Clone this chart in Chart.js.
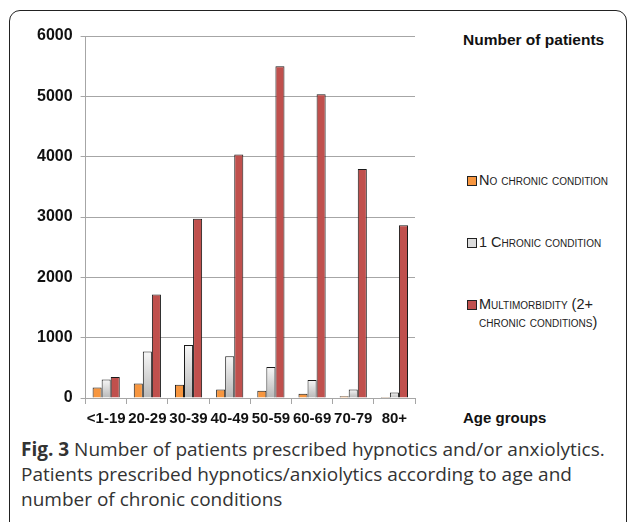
<!DOCTYPE html>
<html>
<head>
<meta charset="utf-8">
<script src="https://cdn.jsdelivr.net/npm/chart.js@4.4.1/dist/chart.umd.min.js"></script>
<style>
  html, body { margin: 0; padding: 0; background: #fff; }
  body { width: 627px; height: 522px; position: relative; overflow: hidden; font-family: "Liberation Sans", Arial, sans-serif; }
  #frame { position: absolute; left: 9px; top: 10px; width: 618px; height: 530px; border: 1.5px solid #222; border-radius: 11px; box-sizing: border-box; }
  #chartBox { position: absolute; left: 0; top: 0; width: 420px; height: 435px; }
  .ttl { position: absolute; font-weight: bold; color: #111; white-space: nowrap; }
  #legend { position: absolute; left: 467px; top: 171px; }
  .item { position: absolute; left: 0; font-size: 14.5px; font-variant: small-caps; color: #222; line-height: 18px; }
  .item .sw { position: absolute; left: 0; top: 5px; width: 8px; height: 8px; border: 1px solid #222; }
  .item span.t { display: block; padding-left: 12px; }
  #caption { position: absolute; left: 21px; top: 437px; font-family: "Open Sans", sans-serif; font-size: 19px; line-height: 25px; color: #333; white-space: nowrap; }
</style>
</head>
<body>
<div id="frame"></div>
<div id="chartBox"><canvas id="chart"></canvas></div>
<div class="ttl" style="left:463px; top:31px; font-size:15.5px;">Number of patients</div>
<div class="ttl" style="left:463px; top:409px; font-size:15px;">Age groups</div>
<div id="legend"></div>
<div id="caption"><b>Fig. 3</b> Number of patients prescribed hypnotics and/or anxiolytics.<br>Patients prescribed hypnotics/anxiolytics according to age and<br>number of chronic conditions</div>
<script>
const ageGroups = ['<1-19', '20-29', '30-39', '40-49', '50-59', '60-69', '70-79', '80+'];
const noChronic = [175, 240, 220, 140, 120, 70, 30, 15];
const oneChronic = [305, 770, 880, 690, 515, 300, 140, 90];
const multimorbidity = [350, 1715, 2970, 4035, 5500, 5035, 3795, 2865];
const seriesNames = ['No chronic condition', '1 Chronic condition', 'Multimorbidity (2+ chronic conditions)'];
const yTicks = [0, 1000, 2000, 3000, 4000, 5000, 6000];

// gray bars get a light-to-dark gradient from top to bottom of each bar
const grayFill = (ctx) => {
    const chart = ctx.chart;
    if (!chart.chartArea || ctx.type !== 'data') return '#d9d9d9';
    const y = chart.scales.y;
    const top = y.getPixelForValue(ctx.raw);
    const bottom = y.getPixelForValue(0);
    if (!isFinite(top) || bottom - top < 1) return '#d9d9d9';
    const g = chart.ctx.createLinearGradient(0, top, 0, bottom);
    g.addColorStop(0, '#f7f7f7');
    g.addColorStop(1, '#b8b8b8');
    return g;
};

const datasets = [
    { label: seriesNames[0], data: noChronic, backgroundColor: '#f7963f', swatch: '#f7963f' },
    { label: seriesNames[1], data: oneChronic, backgroundColor: grayFill, swatch: '#dcdcdc' },
    { label: seriesNames[2], data: multimorbidity, backgroundColor: '#c0504d', swatch: '#c0504d' }
];
datasets.forEach(d => {
    d.borderColor = '#1a1a1a';
    d.borderWidth = 1;
    d.barPercentage = 1;
    d.categoryPercentage = 0.66;
});

const axisFont = 'Liberation Sans';

new Chart(document.getElementById('chart'), {
    type: 'bar',
    data: { labels: ageGroups, datasets: datasets },
    options: {
        responsive: true,
        maintainAspectRatio: false,
        animation: false,
        layout: { padding: { left: 29, right: 5, top: 36, bottom: 1 } },
        plugins: { legend: { display: false }, tooltip: { enabled: false } },
        scales: {
            x: {
                grid: { display: true, drawOnChartArea: false, offset: true, color: '#a6a6a6', tickLength: 6 },
                border: { color: '#a6a6a6' },
                ticks: {
                    autoSkip: false, maxRotation: 0, padding: 6, color: '#111',
                    font: { family: axisFont, size: 15, weight: 'bold' }
                }
            },
            y: {
                min: 0, max: 6000,
                afterBuildTicks: (axis) => { axis.ticks = yTicks.map(v => ({ value: v })); },
                grid: { color: '#a6a6a6', tickLength: 5 },
                border: { color: '#a6a6a6' },
                ticks: {
                    padding: 8, color: '#111',
                    callback: (v) => String(v),
                    font: { family: axisFont, size: 16, weight: 'bold' }
                }
            }
        }
    }
});

// legend built from the datasets
const legend = document.getElementById('legend');
const itemTops = [0, 62, 124];
datasets.forEach((d, i) => {
    const el = document.createElement('div');
    el.className = 'item';
    el.style.top = itemTops[i] + 'px';
    el.style.width = '145px';
    el.innerHTML = '<div class="sw" style="background:' + d.swatch + '"></div><span class="t">' + d.label + '</span>';
    legend.appendChild(el);
});
</script>
</body>
</html>
